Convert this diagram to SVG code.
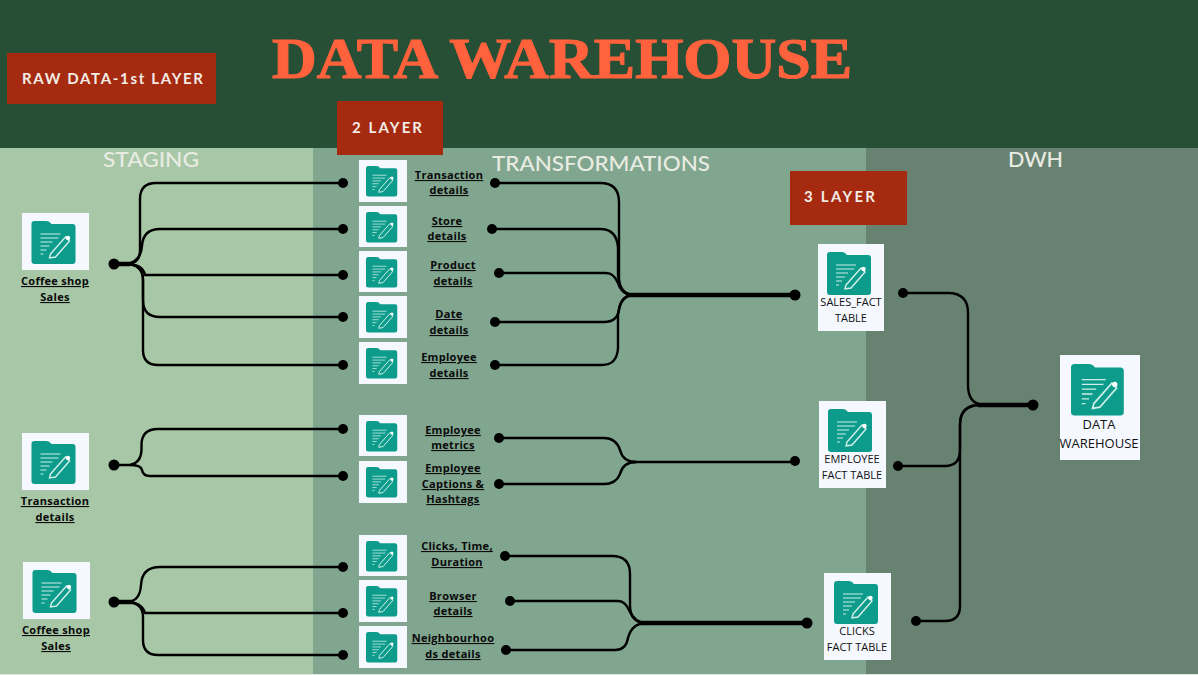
<svg xmlns="http://www.w3.org/2000/svg" width="1198" height="675" viewBox="0 0 1198 675">
<style>
.lbl{font:700 11px "Open Sans",sans-serif;fill:#0a0a0a;text-anchor:middle;text-decoration:underline;letter-spacing:.3px}
.fact{font:400 11px "Open Sans",sans-serif;fill:#111;text-anchor:middle}
.head{font:500 21px "Lato",sans-serif;fill:#e9ece2}
.badge{font:700 15px "Lato",sans-serif;fill:#f2ece6}
.badgebox{fill:#a52a0f}
.c{fill:none;stroke:#000;stroke-width:2.4}
.t{fill:none;stroke:#000;stroke-width:4.5}
.d{fill:#000}
.tile{fill:#f5f8fe}
</style>
<defs>
<filter id="soft" x="-5%" y="-5%" width="110%" height="110%"><feGaussianBlur stdDeviation="0.45"/></filter>
<g id="folder" filter="url(#soft)">
<path d="M3 0H15Q18 0 20 3H41Q44 3 44 6V40Q44 43 41 43H3Q0 43 0 40V3Q0 0 3 0Z" fill="#0a9c8b"/>
<path d="M9 13H29M9 17H27M9 21H21M9 25H18M9 29H15M9 33H12" stroke="#cfeee8" stroke-width="1.1" fill="none"/>
<path d="M19 33L34 16L38 20L24 36L18 37Z" fill="none" stroke="#d5f0ea" stroke-width="1.4"/>
<circle cx="36.500" cy="17" r="2.200" fill="#fff"/>
</g>
</defs>

<rect id="header" width="1198" height="148" fill="#264f36"/>
<rect id="staging-band" y="148" width="313" height="526" fill="#a8c7a6"/>
<rect id="transform-band" x="313" y="148" width="553" height="526" fill="#81a68f"/>
<rect id="dwh-band" x="866" y="148" width="332" height="526" fill="#678271"/>
<rect y="674" width="1198" height="1" fill="#e0e4e0"/>

<text x="272" y="78" font-family="'Liberation Serif',serif" font-weight="700" font-size="58" fill="#ff623c" stroke="#ff623c" stroke-width="1.2" textLength="580" lengthAdjust="spacingAndGlyphs">DATA WAREHOUSE</text>
<text class="head" x="103" y="167" textLength="96" lengthAdjust="spacingAndGlyphs">STAGING</text>
<text class="head" x="492" y="171" textLength="218" lengthAdjust="spacingAndGlyphs">TRANSFORMATIONS</text>
<text class="head" x="1008" y="167" textLength="55" lengthAdjust="spacingAndGlyphs">DWH</text>

<g id="badge-raw"><rect class="badgebox" x="7" y="53" width="209" height="51"/><text class="badge" x="22" y="84" textLength="181">RAW DATA-1st LAYER</text></g>
<g id="badge-2"><rect class="badgebox" x="337" y="101" width="106" height="54"/><text class="badge" x="352" y="133" textLength="70">2 LAYER</text></g>
<g id="badge-3"><rect class="badgebox" x="790" y="171" width="117" height="54"/><text class="badge" x="804" y="202" textLength="71">3 LAYER</text></g>

<g id="connectors">
<path class="c" d="M118 264H126Q140 264 140 250V199Q140 183 156 183H343"/>
<path class="c" d="M126 264Q141 262 142 246Q143 229 160 229H343"/>
<path class="c" d="M126 264Q143 264 145 275H343"/>
<path class="c" d="M126 264Q143 264 143 280V300Q143 317 160 317H343"/>
<path class="c" d="M126 264Q143 264 143 280V350Q143 365 158 365H343"/>
<path class="t" d="M114 264H130"/>
<path class="c" d="M114 465H130Q141 463 141.500 450V445Q141.500 429 158 429H343"/>
<path class="c" d="M130 465Q141 465 142 470Q143 476 150 476H343"/>
<path class="c" d="M114 602H126Q140 602 141 585Q142 567 160 567H343"/>
<path class="c" d="M126 602Q142 602 145 613H343"/>
<path class="c" d="M126 602Q143 602 143 617V640Q143 655 158 655H343"/>
<path class="t" d="M114 602H134"/>

<path class="c" d="M495 183H600Q619 183 619 202V278Q619 295 634 295"/>
<path class="c" d="M492 229H600Q617 229 618 248V275Q620 295 634 295"/>
<path class="c" d="M499 273H606Q614 273 618 283Q622 295 634 295"/>
<path class="c" d="M495 322H604Q617 322 619 310Q621 295 634 295"/>
<path class="c" d="M495 365H602Q617 365 618 348V315Q620 295 634 295"/>
<path class="t" d="M626 295H795"/>
<path class="c" d="M499 438H604Q616 438 620 450Q623 462 636 462"/>
<path class="c" d="M499 484H604Q616 484 620 474Q623 462 636 462"/>
<path class="c" d="M632 462H795"/>
<path class="c" d="M505 556H612Q630 556 630 574V605Q630 623 646 623"/>
<path class="c" d="M510 601H618Q625 601 629 610Q635 623 646 623"/>
<path class="c" d="M506 650H615Q626 650 628 638Q632 623 646 623"/>
<path class="t" d="M640 623H807"/>
<path class="c" d="M903 293H948Q968 293 968 313V385Q968 405 985 405"/>
<path class="c" d="M898 466H945Q960 466 960 450V425Q960 405 980 405"/>
<path class="c" d="M916 621H945Q960 621 960 606V425Q960 405 980 405"/>
<path class="t" d="M978 405H1033"/>

<g class="d">
<circle cx="114" cy="264" r="5.500"/><circle cx="114" cy="465" r="5.500"/><circle cx="114" cy="602" r="5.500"/>
<circle cx="343" cy="183" r="5"/><circle cx="343" cy="229" r="5"/><circle cx="343" cy="275" r="5"/><circle cx="343" cy="317" r="5"/><circle cx="343" cy="365" r="5"/>
<circle cx="343" cy="429" r="5"/><circle cx="343" cy="476" r="5"/><circle cx="343" cy="567" r="5"/><circle cx="343" cy="613" r="5"/><circle cx="343" cy="655" r="5"/>
<circle cx="495" cy="183" r="5"/><circle cx="492" cy="229" r="5"/><circle cx="499" cy="273" r="5"/><circle cx="495" cy="322" r="5"/><circle cx="495" cy="365" r="5"/>
<circle cx="499" cy="438" r="5"/><circle cx="499" cy="484" r="5"/><circle cx="505" cy="556" r="5"/><circle cx="510" cy="601" r="5"/><circle cx="506" cy="650" r="5"/>
<circle cx="795" cy="295" r="5.500"/><circle cx="795" cy="461" r="5"/><circle cx="807" cy="623" r="5.500"/>
<circle cx="903" cy="293" r="5"/><circle cx="898" cy="466" r="5"/><circle cx="916" cy="621" r="5"/><circle cx="1033" cy="405" r="5.500"/>
</g>
</g>

<g id="src-coffee-1"><rect class="tile" x="22" y="213" width="67" height="57"/><use href="#folder" transform="translate(31.500 221)"/><text class="lbl" x="55" y="285">Coffee shop</text><text class="lbl" x="55" y="301">Sales</text></g>
<g id="src-transaction"><rect class="tile" x="22" y="433" width="67" height="57"/><use href="#folder" transform="translate(31.500 441)"/><text class="lbl" x="55" y="505">Transaction </text><text class="lbl" x="55" y="521">details</text></g>
<g id="src-coffee-2"><rect class="tile" x="23" y="562" width="67" height="57"/><use href="#folder" transform="translate(32.500 570)"/><text class="lbl" x="56" y="634">Coffee shop</text><text class="lbl" x="56" y="650">Sales</text></g>

<g id="t1"><rect class="tile" x="359" y="160" width="48" height="42"/><use href="#folder" transform="translate(366 166) scale(.71)"/><text class="lbl" x="449" y="179">Transaction </text><text class="lbl" x="449" y="194">details</text></g>
<g id="t2"><rect class="tile" x="359" y="206" width="48" height="41"/><use href="#folder" transform="translate(366 212) scale(.71)"/><text class="lbl" x="447" y="225">Store </text><text class="lbl" x="447" y="240">details</text></g>
<g id="t3"><rect class="tile" x="359" y="251" width="48" height="41"/><use href="#folder" transform="translate(366 257) scale(.71)"/><text class="lbl" x="453" y="269">Product</text><text class="lbl" x="453" y="285">details</text></g>
<g id="t4"><rect class="tile" x="359" y="296" width="48" height="42"/><use href="#folder" transform="translate(366 302) scale(.71)"/><text class="lbl" x="449" y="318">Date</text><text class="lbl" x="449" y="334">details</text></g>
<g id="t5"><rect class="tile" x="359" y="342" width="48" height="42"/><use href="#folder" transform="translate(366 348) scale(.71)"/><text class="lbl" x="449" y="361">Employee</text><text class="lbl" x="449" y="377">details</text></g>
<g id="t6"><rect class="tile" x="359" y="415" width="48" height="41"/><use href="#folder" transform="translate(366 421) scale(.71)"/><text class="lbl" x="453" y="434">Employee</text><text class="lbl" x="453" y="449">metrics</text></g>
<g id="t7"><rect class="tile" x="359" y="461" width="48" height="42"/><use href="#folder" transform="translate(366 467) scale(.71)"/><text class="lbl" x="453" y="472">Employee</text><text class="lbl" x="453" y="488">Captions &amp;</text><text class="lbl" x="453" y="503">Hashtags</text></g>
<g id="t8"><rect class="tile" x="359" y="535" width="48" height="41"/><use href="#folder" transform="translate(366 541) scale(.71)"/><text class="lbl" x="457" y="550">Clicks, Time,</text><text class="lbl" x="457" y="566">Duration</text></g>
<g id="t9"><rect class="tile" x="359" y="580" width="48" height="42"/><use href="#folder" transform="translate(366 586) scale(.71)"/><text class="lbl" x="453" y="600">Browser</text><text class="lbl" x="453" y="615">details</text></g>
<g id="t10"><rect class="tile" x="359" y="626" width="48" height="42"/><use href="#folder" transform="translate(366 632) scale(.71)"/><text class="lbl" x="453" y="642">Neighbourhoo</text><text class="lbl" x="453" y="658">ds details</text></g>

<g id="f1"><rect class="tile" x="818" y="244" width="66" height="87"/><use href="#folder" transform="translate(827 252)"/><text class="fact" x="851" y="306">SALES_FACT</text><text class="fact" x="851" y="322">TABLE</text></g>
<g id="f2"><rect class="tile" x="819" y="401" width="67" height="87"/><use href="#folder" transform="translate(828 409)"/><text class="fact" x="852" y="463">EMPLOYEE</text><text class="fact" x="852" y="479">FACT TABLE</text></g>
<g id="f3"><rect class="tile" x="824" y="573" width="67" height="87"/><use href="#folder" transform="translate(834 581)"/><text class="fact" x="857" y="635">CLICKS</text><text class="fact" x="857" y="651">FACT TABLE</text></g>
<g id="dw"><rect class="tile" x="1060" y="355" width="80" height="105"/><use href="#folder" transform="translate(1071 364) scale(1.2)"/><text class="fact" x="1099" y="429" style="font-size:13px">DATA</text><text class="fact" x="1099" y="448" style="font-size:13px">WAREHOUSE</text></g>
</svg>
